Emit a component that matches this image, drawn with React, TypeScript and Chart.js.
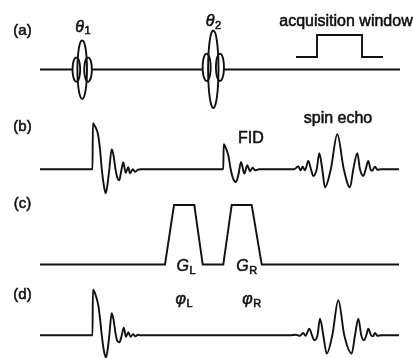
import React, { useEffect, useRef } from "react";
import { Chart, registerables } from "chart.js";

Chart.register(...registerables);

const W = 414;
const H = 358;
const INK = "#111";
const FONT = "'Liberation Sans', Arial, sans-serif";

// Row baselines (vertical position of each trace, top-down units)
const BASE_A = 69.5;
const BASE_B = 169.3;
const BASE_C = 264.5;
const BASE_D = 335.3;
const TRACE_START = 40;
const TRACE_END = 399;

// (a) RF pulses θ1, θ2
const PULSE_CENTER = [82.2, 213.3];
const PULSE_TOP = [40, 30];
const PULSE_BOTTOM = [99, 108];
const PULSE_HALF_WIDTH = [4.8, 5.2];
const LOBE_OFFSET = [5.85, 6.65];
const LOBE_HALF_WIDTH = [3.8, 4];
const LOBE_TOP = [57.3, 53.5];
const LOBE_BOTTOM = [81.7, 81];
const OUTLINE_DX = [0, 0.383, 0.707, 0.924, 1, 0.924, 0.707, 0.383, 0, -0.383, -0.707, -0.924, -1, -0.924, -0.707, -0.383, 0];
const OUTLINE_DY = [-1, -0.924, -0.707, -0.383, 0, 0.383, 0.707, 0.924, 1, 0.924, 0.707, 0.383, 0, -0.383, -0.707, -0.924, -1];

// (a) acquisition window
const ACQ_T = [296, 317, 317, 362, 362, 383];
const ACQ_AMP = [12.5, 12.5, 34.5, 34.5, 12.5, 12.5];

// (b) FID after θ1, FID after θ2, spin echo
const FID1_B_T = [92.5, 92.9, 95, 98, 100, 101.8, 104, 105.7, 107.5, 109.3, 111.7, 113.5, 115.5, 117.5, 119.2, 121, 123.3, 125.7, 128.3, 130, 132.7, 135, 137.5, 141];
const FID1_B_AMP = [0, 46, 43, 35, 20, 0, -17, -24, -15, 0, 20, 14, 0, -9, -11, -3, 7, -3.5, 2, -4, 0, -2.5, -0.5, 0];
const FID2_B_T = [223.3, 223.7, 226, 228.3, 230.7, 233, 236, 238.5, 241, 244.3, 247.3, 250, 252.7, 255, 259];
const FID2_B_AMP = [0, 25, 21, 14, 0, -9, -12.7, -5, 7.3, -4.3, 4, -2, 1.7, -1, 0];
const ECHO_B_T = [288, 294, 298.3, 300.4, 302.7, 305, 308.3, 311, 313.3, 316.7, 319.3, 322.3, 325, 330.8, 337.3, 343.8, 350, 353.3, 357.3, 360, 363.3, 365.7, 368.3, 370.5, 372, 375, 377.5, 381];
const ECHO_B_AMP = [0, 0, 3, -1, 2.5, -1, 8.3, 0, -6.7, 0, 16, 0, -18, 0, 35, 0, -18, 0, 16, 0, -6.7, 0, 8.3, 0, -1.5, 2.5, -0.5, 0];

// (c) gradient lobes G_L, G_R
const GRAD_T = [165, 174, 194.3, 202.7, 223.3, 231.7, 251.7, 261.7];
const GRAD_AMP = [0, 59.5, 59.5, 0, 0, 59.5, 59.5, 0];

// (d) FID and echo
const FID1_D_T = [92.5, 92.9, 95, 98.3, 100, 101.8, 104, 106, 107.8, 109.3, 111.7, 113.5, 115.5, 117.5, 119.5, 121.5, 123.8, 126, 128.3, 130.5, 133, 135.5, 138, 141];
const FID1_D_AMP = [0, 45.5, 42, 30, 17, 0, -16, -22, -13, 0, 22, 16, 2, -6, -7, -1, 7.5, -1.5, 3, -1.5, 1, -1, 0.5, 0];
const ECHO_D_T = [290, 296, 300, 303.3, 305.5, 309.3, 312, 314.3, 317.5, 320, 323.3, 326.7, 332.3, 338.3, 344.3, 351.7, 355, 358.3, 361.3, 364, 366.3, 368.3, 371, 373, 375, 377.5, 381];
const ECHO_D_AMP = [0, 0.5, -0.5, 2.3, -0.5, 6.7, 0, -5, 0, 16.7, 0, -18.3, 0, 35, 0, -18.3, 0, 16.7, 0, -5, 0, 6.7, 0, -1, 2.3, -0.5, 0];

// Text labels
const LABEL_TEXT = ["(a)", "(b)", "(c)", "(d)", "acquisition window", "FID", "spin echo", "θ", "θ", "G", "G", "φ", "φ"];
const LABEL_SUB = ["", "", "", "", "", "", "", "1", "2", "L", "R", "L", "R"];
const LABEL_X = [22.5, 22.5, 22.5, 22.5, 346, 250.8, 338, 83, 213.5, 186, 246.7, 184, 251.7];
const LABEL_Y = [34.9, 130.5, 208.3, 299.3, 25.8, 142.5, 122.5, 31.5, 26, 270.5, 270.5, 304, 304];
const LABEL_SIZE = [15, 15, 15, 15, 16, 16, 16, 16, 16, 16, 16, 16, 16];
const LABEL_ITALIC = [false, false, false, false, false, false, false, true, true, true, true, true, true];
const SUB_DROP = [0, 0, 0, 0, 0, 0, 0, 2.5, 2.5, 3, 3, 3, 3];
const SUB_SIZE = 11;

const pts = (ts: number[], amps: number[], base: number) =>
  ts.map((t, i) => ({ x: t, y: base - amps[i] }));

const outline = (cx: number, cy: number, hw: number, hh: number) =>
  OUTLINE_DX.map((dx, i) => ({ x: cx + dx * hw, y: cy + OUTLINE_DY[i] * hh }));

const lineDs = (data: { x: number; y: number }[], extra: any = {}) => ({
  data,
  showLine: true,
  borderColor: INK,
  borderWidth: 1.9,
  pointRadius: 0,
  pointHoverRadius: 0,
  fill: false,
  tension: 0,
  ...extra,
});

const labelPlugin = {
  id: "diagramLabels",
  afterDatasetsDraw(chart: any) {
    const { ctx, scales } = chart;
    const xs = scales.x;
    const ys = scales.y;
    ctx.save();
    ctx.fillStyle = INK;
    ctx.strokeStyle = INK;
    ctx.lineWidth = 0.55;
    ctx.lineJoin = "round";
    ctx.textBaseline = "alphabetic";
    ctx.textAlign = "left";
    LABEL_TEXT.forEach((text, i) => {
      const mainFont = `${LABEL_ITALIC[i] ? "italic " : ""}${LABEL_SIZE[i]}px ${FONT}`;
      const subFont = `${SUB_SIZE}px ${FONT}`;
      ctx.font = mainFont;
      const w1 = ctx.measureText(text).width;
      let w2 = 0;
      if (LABEL_SUB[i]) {
        ctx.font = subFont;
        w2 = ctx.measureText(LABEL_SUB[i]).width + 0.5;
      }
      const left = xs.getPixelForValue(LABEL_X[i]) - (w1 + w2) / 2;
      const by = ys.getPixelForValue(LABEL_Y[i]);
      ctx.font = mainFont;
      ctx.fillText(text, left, by);
      ctx.strokeText(text, left, by);
      if (LABEL_SUB[i]) {
        ctx.font = subFont;
        ctx.fillText(LABEL_SUB[i], left + w1 + 0.5, by + SUB_DROP[i]);
        ctx.strokeText(LABEL_SUB[i], left + w1 + 0.5, by + SUB_DROP[i]);
      }
    });
    ctx.restore();
  },
};

export default function App() {
  const ref = useRef<HTMLCanvasElement | null>(null);

  useEffect(() => {
    if (!ref.current) return;
    const datasets: any[] = [];

    // Row (a) baseline, broken by the pulse lobes
    const edges: number[] = [TRACE_START];
    PULSE_CENTER.forEach((c, i) => {
      edges.push(c - LOBE_OFFSET[i] - LOBE_HALF_WIDTH[i]);
      edges.push(c + LOBE_OFFSET[i] + LOBE_HALF_WIDTH[i]);
    });
    edges.push(TRACE_END + 1);
    for (let k = 0; k < edges.length; k += 2) {
      datasets.push(lineDs([{ x: edges[k], y: BASE_A }, { x: edges[k + 1], y: BASE_A }]));
    }

    // RF pulses
    PULSE_CENTER.forEach((c, i) => {
      const cy = (PULSE_TOP[i] + PULSE_BOTTOM[i]) / 2;
      const hh = (PULSE_BOTTOM[i] - PULSE_TOP[i]) / 2;
      datasets.push(lineDs(outline(c, cy, PULSE_HALF_WIDTH[i], hh), { tension: 0.4 }));
      const ly = (LOBE_TOP[i] + LOBE_BOTTOM[i]) / 2;
      const lh = (LOBE_BOTTOM[i] - LOBE_TOP[i]) / 2;
      datasets.push(lineDs(outline(c - LOBE_OFFSET[i], ly, LOBE_HALF_WIDTH[i], lh), { tension: 0.4 }));
      datasets.push(lineDs(outline(c + LOBE_OFFSET[i], ly, LOBE_HALF_WIDTH[i], lh), { tension: 0.4 }));
    });

    // acquisition window
    datasets.push(lineDs(pts(ACQ_T, ACQ_AMP, BASE_A)));

    // Row (b)
    const bT = [TRACE_START, ...FID1_B_T, ...FID2_B_T, ...ECHO_B_T, TRACE_END];
    const bA = [0, ...FID1_B_AMP, ...FID2_B_AMP, ...ECHO_B_AMP, 0];
    datasets.push(lineDs(pts(bT, bA, BASE_B), { cubicInterpolationMode: "monotone", tension: 0.4 }));

    // Row (c)
    const cT = [TRACE_START, ...GRAD_T, TRACE_END];
    const cA = [0, ...GRAD_AMP, 0];
    datasets.push(lineDs(pts(cT, cA, BASE_C)));

    // Row (d)
    const dT = [TRACE_START, ...FID1_D_T, ...ECHO_D_T, TRACE_END];
    const dA = [0, ...FID1_D_AMP, ...ECHO_D_AMP, 0];
    datasets.push(lineDs(pts(dT, dA, BASE_D), { cubicInterpolationMode: "monotone", tension: 0.4 }));

    const chart = new Chart(ref.current, {
      type: "scatter",
      data: { datasets },
      options: {
        animation: false,
        responsive: false,
        maintainAspectRatio: false,
        devicePixelRatio: 1,
        events: [],
        layout: { padding: 0 },
        plugins: { legend: { display: false }, tooltip: { enabled: false } },
        scales: {
          x: { type: "linear", min: 0, max: W, display: false },
          y: { type: "linear", min: 0, max: H, reverse: true, display: false },
        },
      },
      plugins: [labelPlugin],
    });
    return () => chart.destroy();
  }, []);

  return (
    <div style={{ position: "fixed", left: 0, top: 0, width: W, height: H, background: "#fff" }}>
      <canvas ref={ref} width={W} height={H} style={{ display: "block", width: W, height: H }} />
    </div>
  );
}
